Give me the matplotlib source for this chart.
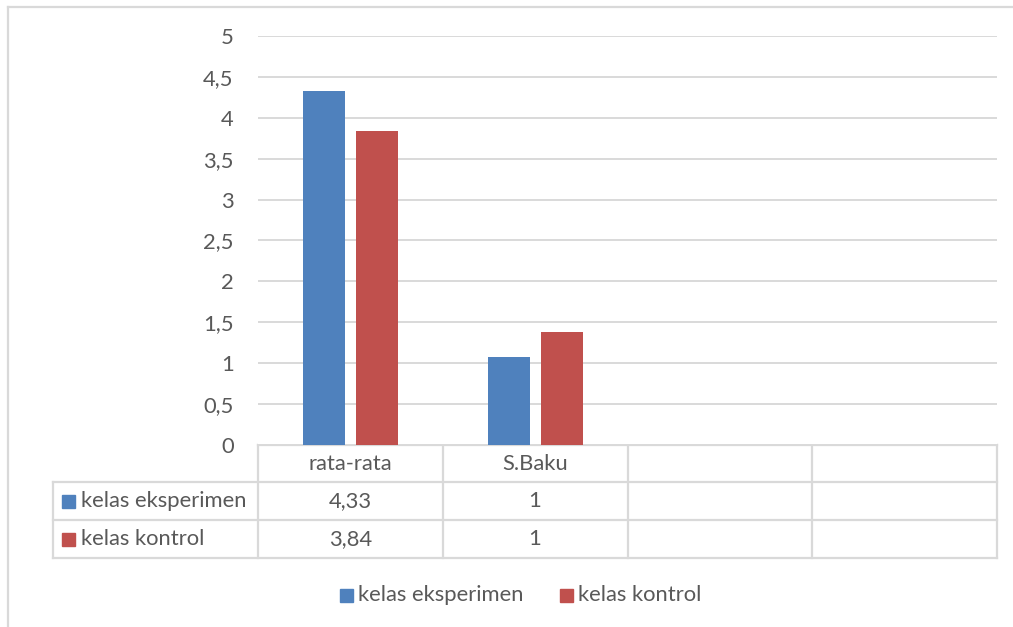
import matplotlib.pyplot as plt
import numpy as np

categories = ["rata-rata", "S.Baku", "", ""]
series_names = ["kelas eksperimen", "kelas kontrol"]
eksperimen = [4.33, 1.08]
kontrol = [3.84, 1.38]
# values as printed in the data table under the chart
table_eksperimen = ["4,33", "1", "", ""]
table_kontrol = ["3,84", "1", "", ""]
yticks = [0, 0.5, 1, 1.5, 2, 2.5, 3, 3.5, 4, 4.5, 5]

BLUE = "#4f81bd"
RED = "#c0504d"
GRID = "#d9d9d9"
TEXT = "#595959"
FS = 15.8

plt.rcParams["font.family"] = ["Lato", "DejaVu Sans"]

W, H = 1013, 627
fig = plt.figure(figsize=(W / 100, H / 100), dpi=100)

# plot area in pixel units
px_left, px_right, px_top, px_bottom = 258, 997, 36, 445
ax = fig.add_axes([px_left / W, 1 - px_bottom / H,
                   (px_right - px_left) / W, (px_bottom - px_top) / H])

x = np.arange(len(categories))
width = 0.227
ax.bar(x[:2] - 0.143, eksperimen, width, color=BLUE, zorder=3)
ax.bar(x[:2] + 0.143, kontrol, width, color=RED, zorder=3)

ax.set_xlim(-0.5, len(categories) - 0.5)
ax.set_ylim(0, 5)
ax.set_yticks(yticks)
ax.set_yticklabels([f"{v:g}".replace(".", ",") for v in yticks])
ax.tick_params(axis="y", length=0, pad=17.5, labelsize=FS, labelcolor=TEXT)
ax.set_xticks([])
for s in ax.spines.values():
    s.set_visible(False)
ax.yaxis.grid(True, color=GRID, linewidth=1.4, zorder=0)
ax.set_axisbelow(True)

# overlay in pixel coordinates for the data table, legend and frame
ov = fig.add_axes([0, 0, 1, 1], zorder=-1)
ov.set_xlim(0, W)
ov.set_ylim(H, 0)
ov.axis("off")

col_edges = np.linspace(px_left, px_right, len(categories) + 1)
row_edges = [445, 482, 520, 558]
lw = 1.6
# header row (categories) spans only the value columns
ov.plot([px_left, px_right], [row_edges[0]] * 2, color=GRID, lw=lw)
for ry in row_edges[1:]:
    ov.plot([53, px_right], [ry, ry], color=GRID, lw=lw)
for cx in col_edges:
    ov.plot([cx, cx], [row_edges[0], row_edges[-1]], color=GRID, lw=lw)
ov.plot([53, 53], [row_edges[1], row_edges[-1]], color=GRID, lw=lw)

centers = (col_edges[:-1] + col_edges[1:]) / 2
row_mid = [(row_edges[i] + row_edges[i + 1]) / 2 for i in range(3)]
for cx, cat in zip(centers, categories):
    ov.text(cx, row_mid[0], cat, ha="center", va="center", fontsize=FS, color=TEXT)
for ri, (name, col, vals) in enumerate(
        [(series_names[0], BLUE, table_eksperimen),
         (series_names[1], RED, table_kontrol)], start=1):
    ov.add_patch(plt.Rectangle((62, row_mid[ri] - 6.5), 13, 13, color=col))
    ov.text(81, row_mid[ri], name, ha="left", va="center", fontsize=FS, color=TEXT)
    for cx, v in zip(centers, vals):
        ov.text(cx, row_mid[ri], v, ha="center", va="center", fontsize=FS, color=TEXT)

# legend
leg_y = 595
for lx, name, col in [(340, series_names[0], BLUE), (560, series_names[1], RED)]:
    ov.add_patch(plt.Rectangle((lx, leg_y - 6.5), 13, 13, color=col))
    ov.text(lx + 18, leg_y, name, ha="left", va="center", fontsize=FS, color=TEXT)

# chart frame
ov.plot([8, W], [7, 7], color=GRID, lw=1.6)
ov.plot([8, 8], [7, H], color=GRID, lw=1.6)

fig.savefig("out.png", dpi=100)
